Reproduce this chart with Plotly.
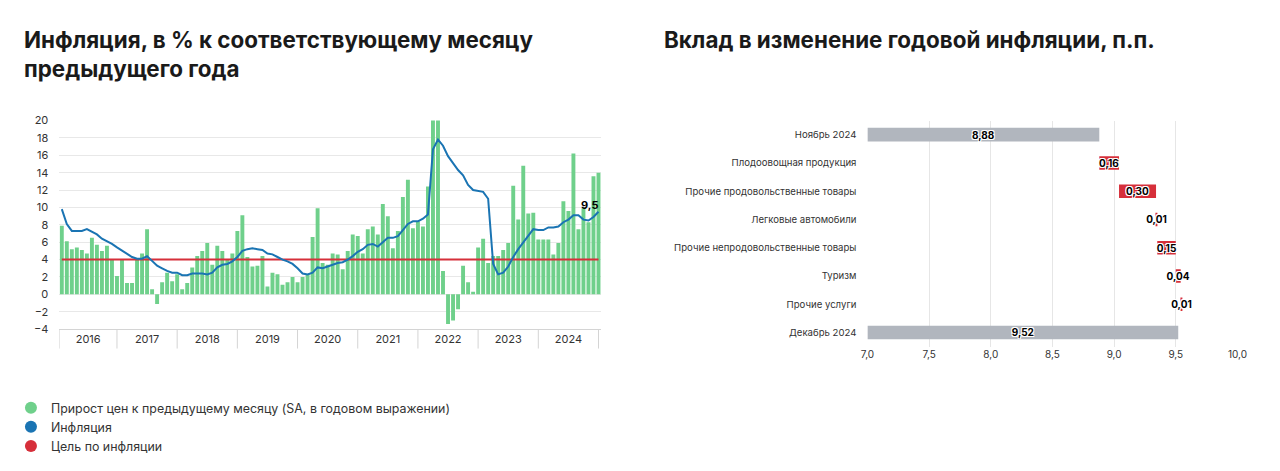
import plotly.graph_objects as go

# ---- left chart: inflation, % y/y ----
years = [2016, 2017, 2018, 2019, 2020, 2021, 2022, 2023, 2024]

# month-on-month price growth, SA, annualised (Jan 2016 .. Dec 2024)
mom_saar = [
    7.9, 6.1, 5.2, 5.4, 5.1, 4.7, 6.5, 5.7, 5.0, 5.6, 4.0, 2.1,
    4.0, 1.3, 1.3, 4.1, 4.7, 7.5, 0.6, -1.1, 1.4, 2.5, 1.5, 2.3,
    0.6, 1.3, 3.1, 4.4, 5.0, 5.9, 3.4, 5.6, 5.0, 4.0, 4.7, 7.3,
    9.1, 4.3, 3.2, 3.3, 4.4, 0.9, 2.5, 2.3, 1.1, 1.4, 2.0, 1.4,
    2.0, 2.3, 6.6, 9.9, 3.6, 3.4, 4.7, 4.6, 2.9, 5.0, 6.9, 6.7,
    4.7, 7.5, 7.8, 6.9, 10.4, 9.0, 5.3, 7.3, 11.2, 13.2, 7.6, 8.4,
    7.8, 12.4, 30.0, 25.0, 2.7, -3.4, -3.0, -1.7, 3.3, 1.4, 0.3, 5.4,
    6.4, 3.6, 4.4, 4.4, 5.1, 5.9, 12.5, 8.6, 14.8, 9.3, 9.4, 6.3,
    6.3, 6.3, 4.6, 5.9, 10.7, 9.6, 16.2, 7.5, 9.9, 8.3, 13.6, 14.0,
]

# annual inflation
yoy = [
    9.8, 8.1, 7.3, 7.3, 7.3, 7.5, 7.2, 6.9, 6.4, 6.1, 5.8, 5.4,
    5.0, 4.6, 4.3, 4.1, 4.1, 4.4, 3.9, 3.3, 3.0, 2.7, 2.5, 2.5,
    2.2, 2.2, 2.4, 2.4, 2.4, 2.3, 2.5, 3.1, 3.4, 3.5, 3.8, 4.3,
    5.0, 5.2, 5.3, 5.2, 5.1, 4.7, 4.6, 4.3, 4.0, 3.8, 3.5, 3.0,
    2.4, 2.3, 2.5, 3.1, 3.0, 3.2, 3.4, 3.6, 3.7, 4.0, 4.4, 4.9,
    5.2, 5.7, 5.8, 5.5, 6.0, 6.5, 6.5, 6.7, 7.4, 8.1, 8.4, 8.4,
    8.7, 9.2, 16.7, 17.8, 17.1, 15.9, 15.1, 14.3, 13.7, 12.6, 12.0, 11.9,
    11.8, 11.0, 3.5, 2.3, 2.5, 3.2, 4.3, 5.2, 6.0, 6.7, 7.5, 7.4,
    7.4, 7.7, 7.7, 7.8, 8.3, 8.6, 9.1, 9.1, 8.6, 8.5, 8.9, 9.5,
]
target = 4

# ---- right chart: contribution to change of annual inflation, p.p. ----
factors = [
    "Ноябрь 2024",
    "Плодоовощная продукция",
    "Прочие продовольственные товары",
    "Легковые автомобили",
    "Прочие непродовольственные товары",
    "Туризм",
    "Прочие услуги",
    "Декабрь 2024",
]
contrib = [8.88, 0.16, 0.30, 0.01, 0.15, 0.04, 0.01, 9.52]
measures = ["absolute", "relative", "relative", "relative",
            "relative", "relative", "relative", "absolute"]
axis_start = 7.0

GREEN = "#6fd08b"
BLUE = "#1a74b3"
RED = "#d62f3a"
GREY = "#b1b6be"
TXT = "#333333"
FONT = "Inter"

W, H = 1280, 471


def px(x):
    return x / W


def py(y):
    return 1 - y / H


def fmt(v, d):
    return f"{v:.{d}f}".replace(".", ",")


months = list(range(len(mom_saar)))
last_label = [""] * (len(yoy) - 1) + [fmt(yoy[-1], 1)]

fig = go.Figure()

fig.add_trace(go.Bar(
    x=months, y=mom_saar, marker=dict(color=GREEN, line=dict(width=0)),
    showlegend=False, hoverinfo="y",
))
fig.add_trace(go.Scatter(
    x=months, y=[target] * len(months), mode="lines",
    line=dict(color=RED, width=2), showlegend=False,
))
fig.add_trace(go.Scatter(
    x=months, y=yoy, mode="lines+text", text=last_label,
    textposition="top left",
    textfont=dict(family=FONT, size=11, color="black", weight="bold"),
    line=dict(color=BLUE, width=2), showlegend=False,
))

# legend entries (round markers like the original)
for name, col in [("Прирост цен к предыдущему месяцу (SA, в годовом выражении)", GREEN),
                  ("Инфляция", BLUE),
                  ("Цель по инфляции", RED)]:
    fig.add_trace(go.Scatter(
        x=[None], y=[None], mode="markers", name=name,
        marker=dict(symbol="circle", size=12, color=col),
    ))

# bars start at the left edge of the axis, so totals are drawn from axis_start
fig.add_trace(go.Waterfall(
    orientation="h", y=factors,
    x=[v - axis_start if m == "absolute" else v for v, m in zip(contrib, measures)],
    base=axis_start, measure=measures,
    text=[fmt(v, 2) for v in contrib], textinfo="text",
    textposition="inside", insidetextanchor="middle", textangle=0,
    textfont=dict(family=FONT, size=10, color="black", weight="bold",
                  shadow="-1px -1px 0 #fff, 1px -1px 0 #fff, -1px 1px 0 #fff, 1px 1px 0 #fff"),
    constraintext="none",
    increasing=dict(marker=dict(color=RED)),
    decreasing=dict(marker=dict(color="#2a9d5b")),
    totals=dict(marker=dict(color=GREY)),
    connector=dict(visible=False),
    xaxis="x2", yaxis="y2", showlegend=False,
))

# year separators under the left chart
bounds = [-0.5] + [12 * (i + 1) - 1 for i in range(len(years))]
centers = [(bounds[i] + bounds[i + 1]) / 2 for i in range(len(years))]
y_axis_bottom = py(332)
for b in bounds:
    fig.add_shape(type="line", xref="x", yref="paper", x0=b, x1=b,
                  y0=y_axis_bottom, y1=y_axis_bottom - 20 / H,
                  line=dict(color="#d4d4d4", width=1))

fig.update_layout(
    width=W, height=H,
    margin=dict(l=0, r=0, t=0, b=0),
    paper_bgcolor="white", plot_bgcolor="white",
    font=dict(family=FONT, color=TXT, size=11),
    separators=", ",
    bargap=0.22,
    waterfallgap=0.52,
    uniformtext=dict(mode="show", minsize=10),
    xaxis=dict(
        domain=[px(53), px(602)], range=[-0.5, len(months) - 0.5],
        tickvals=centers, ticktext=[str(y) for y in years], ticks="",
        showgrid=False, zeroline=False, showline=True, linecolor="#d4d4d4",
        tickfont=dict(size=11, color=TXT), fixedrange=True,
    ),
    yaxis=dict(
        domain=[py(332), py(117)], range=[-4, 20], dtick=2, tick0=0,
        gridcolor="#e8e8e8", zeroline=False, showline=False,
        tickfont=dict(size=11, color=TXT), ticklabelstandoff=10,
    ),
    xaxis2=dict(
        domain=[px(872), px(1247)], range=[7, 10], dtick=0.5, tick0=7,
        tickformat=".1f", anchor="y2", gridcolor="#e6e6e6",
        zeroline=False, showline=False, ticks="",
        tickfont=dict(size=10, color=TXT),
    ),
    yaxis2=dict(
        domain=[py(350), py(117)], anchor="x2", autorange="reversed",
        type="category", showgrid=False, zeroline=False, showline=False,
        tickfont=dict(size=9.6, color=TXT), ticklabelstandoff=10,
    ),
    legend=dict(
        x=px(4), y=py(398), xanchor="left", yanchor="top",
        orientation="v", font=dict(size=12.4, color=TXT),
        itemwidth=30, tracegroupgap=0, bgcolor="rgba(0,0,0,0)",
    ),
    annotations=[
        dict(text="Инфляция, в % к соответствующему месяцу<br>предыдущего года",
             xref="paper", yref="paper", x=px(15), y=py(18),
             xanchor="left", yanchor="top", align="left", showarrow=False,
             font=dict(family=FONT, size=22.4, color="#1a1a1a", weight="bold")),
        dict(text="Вклад в изменение годовой инфляции, п.п.",
             xref="paper", yref="paper", x=px(664), y=py(18),
             xanchor="left", yanchor="top", align="left", showarrow=False,
             font=dict(family=FONT, size=22.4, color="#1a1a1a", weight="bold")),
    ],
)

fig.write_html("out.html", config={"displayModeBar": False},
               post_script="document.body.style.margin='0';")
